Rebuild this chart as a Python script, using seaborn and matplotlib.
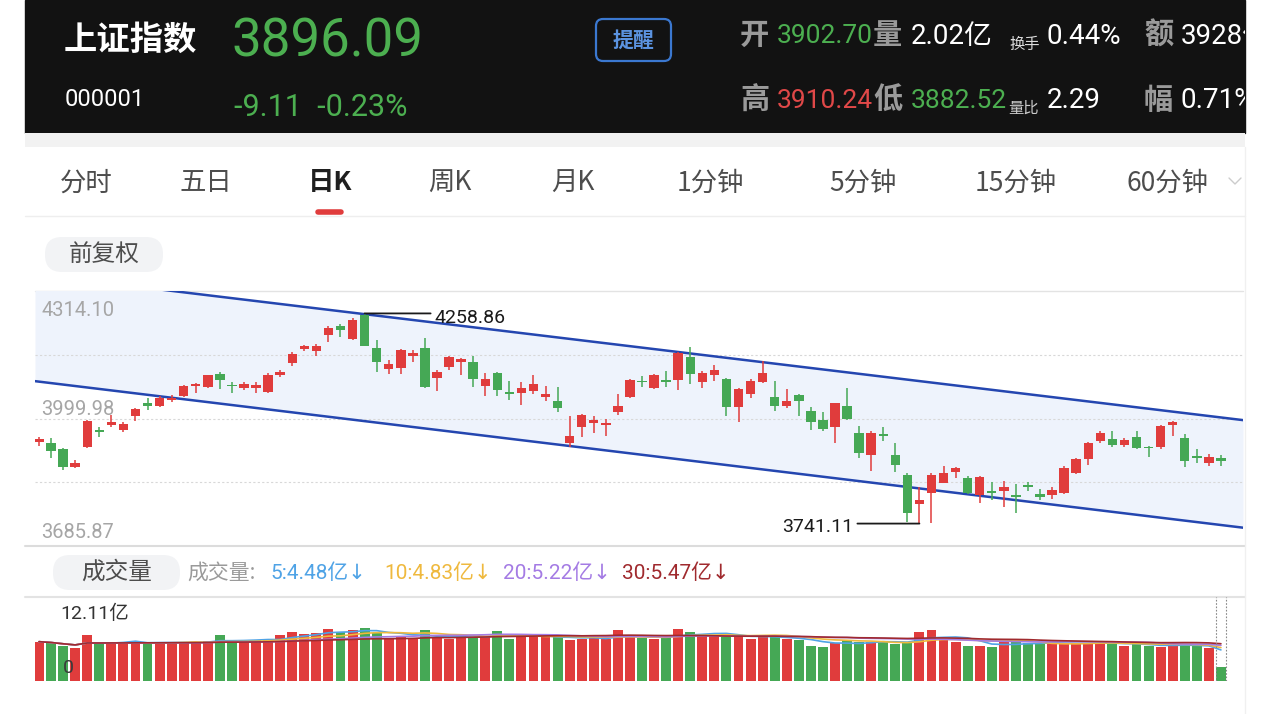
import numpy as np
import pandas as pd
import seaborn as sns
import matplotlib.pyplot as plt
from matplotlib.patches import Rectangle, FancyBboxPatch

# -------------------------
# Data (daily K, 上证指数)
# -------------------------
opens = [3941, 3939, 3926, 3881, 3931, 3971, 3984, 3972, 4007, 4037,
         4032, 4046, 4056, 4079, 4078, 4109, 4083, 4076, 4076, 4065,
         4106, 4136, 4170, 4166, 4206, 4228, 4195, 4255, 4173, 4121,
         4125, 4154, 4173, 4099, 4128, 4140, 4138, 4081, 4111, 4066,
         4062, 4068, 4053, 4043, 3939, 3980, 3988, 3984, 4015, 4054,
         4093, 4076, 4094, 4095, 4152, 4091, 4106, 4097, 4029, 4060,
         4091, 4052, 4032, 4058, 4019, 3996, 3980, 4031, 3965, 3910,
         3963, 3910, 3862, 3789, 3816, 3842, 3869, 3853, 3812, 3822,
         3822, 3812, 3836, 3814, 3812, 3816, 3865, 3899, 3945, 3949,
         3935, 3955, 3931, 3929, 3984, 3951, 3908, 3891, 3902.70]
closes = [3950, 3921, 3881, 3891, 3994, 3966, 3991, 3987, 4023, 4032,
          4051, 4051, 4080, 4084, 4106, 4095, 4079, 4084, 4083, 4107,
          4114, 4159, 4178, 4179, 4222, 4218, 4243, 4179, 4138, 4134,
          4168, 4161, 4078, 4114, 4152, 4147, 4097, 4097, 4070, 4060,
          4074, 4084, 4061, 4027, 3957, 4009, 3996, 3988, 4032, 4095,
          4089, 4107, 4089, 4161, 4109, 4111, 4120, 4029, 4073, 4093,
          4111, 4032, 4043, 4043, 3992, 3974, 4037, 3998, 3916, 3965,
          3957, 3885, 3766, 3798, 3861, 3865, 3877, 3816, 3857, 3816,
          3832, 3806, 3830, 3807, 3824, 3877, 3899, 3939, 3965, 3935,
          3947, 3927, 3927, 3982, 3991, 3896, 3902, 3904, 3896.09]
highs = [3955, 3951, 3928, 3898, 3996, 3980, 4009, 3991, 4027, 4050,
         4056, 4058, 4083, 4087, 4107, 4114, 4091, 4091, 4089, 4111,
         4119, 4165, 4181, 4183, 4229, 4232, 4247, 4258.86, 4193, 4144,
         4170, 4169, 4199, 4120, 4155, 4150, 4154, 4111, 4114, 4092,
         4089, 4107, 4081, 4078, 4007, 4011, 4007, 3998, 4060, 4097,
         4105, 4109, 4117, 4165, 4175, 4117, 4132, 4099, 4074, 4097,
         4142, 4092, 4073, 4060, 4028, 4015, 4039, 4074, 3982, 3968,
         3980, 3939, 3865, 3830, 3865, 3883, 3881, 3859, 3858, 3844,
         3847, 3839, 3844, 3826, 3832, 3883, 3902, 3943, 3968, 3968,
         3951, 3968, 3932, 3984, 3994, 3962, 3924, 3912, 3910.24]
lows = [3933, 3902, 3873, 3877, 3927, 3955, 3980, 3966, 3994, 4021,
        4029, 4040, 4053, 4062, 4076, 4073, 4062, 4070, 4064, 4062,
        4102, 4130, 4166, 4155, 4188, 4201, 4193, 4179, 4114, 4109,
        4109, 4140, 4074, 4068, 4120, 4106, 4078, 4056, 4056, 4046,
        4033, 4060, 4043, 4015, 3931, 3955, 3964, 3958, 4009, 4051,
        4078, 4073, 4078, 4070, 4085, 4076, 4093, 4007, 3992, 4051,
        4088, 4019, 4027, 4007, 3972, 3968, 3940, 3996, 3902, 3871,
        3945, 3869, 3746, 3741.11, 3743, 3840, 3853, 3813, 3793, 3799,
        3783, 3768, 3822, 3799, 3801, 3814, 3863, 3885, 3939, 3931,
        3929, 3924, 3904, 3924, 3957, 3880, 3890, 3883, 3882.52]
# volume in 亿
volumes = [5.67, 5.43, 5.00, 4.71, 6.60, 5.45, 5.55, 5.50, 5.60, 5.50,
           5.55, 5.60, 5.55, 5.60, 5.70, 6.60, 5.60, 5.70, 5.90, 6.10,
           6.60, 7.00, 6.80, 6.90, 7.50, 7.00, 7.30, 7.60, 6.90, 6.20,
           6.40, 6.20, 7.30, 6.20, 6.00, 6.60, 6.40, 6.40, 7.20, 6.10,
           6.40, 6.30, 6.60, 6.30, 5.90, 6.00, 6.40, 6.00, 7.40, 6.39,
           6.15, 6.06, 6.39, 7.45, 7.11, 6.63, 6.63, 6.49, 6.49, 6.01,
           6.49, 6.39, 6.01, 5.91, 5.10, 4.95, 5.43, 5.91, 5.67, 5.67,
           5.67, 5.34, 5.67, 7.11, 7.35, 6.01, 5.58, 5.05, 5.05, 4.95,
           5.67, 5.67, 5.53, 5.29, 5.43, 5.43, 5.53, 5.53, 5.53, 5.29,
           5.10, 5.34, 5.05, 4.95, 5.20, 5.30, 5.20, 4.70, 2.02]

# price axis labels shown on the chart (top, middle, bottom)
price_labels = [4314.10, 3999.98, 3685.87]
vol_top = 12.11

# hand-drawn channel (candle index, price)
chan_x = [-0.33, 99.83]
chan_upper = [4355, 3996]
chan_lower = [4092, 3731]

ma_windows = [5, 10, 20, 30]
ma_colors = ["#4fa3e6", "#efb93e", "#a47be4", "#a02a2e"]
ma_labels = ["5:4.48亿↓", "10:4.83亿↓", "20:5.22亿↓", "30:5.47亿↓"]

tabs = ["分时", "五日", "日K", "周K", "月K", "1分钟", "5分钟", "15分钟", "60分钟"]

RED = "#e03c3c"
GREEN = "#45a855"
W, H = 1280, 714

sns.set_theme(style="white")
plt.rcParams["font.family"] = ["Noto Sans CJK SC", "DejaVu Sans"]
NUM = ["Roboto", "Noto Sans CJK SC", "DejaVu Sans"]
ARROW = ["Roboto", "DejaVu Sans", "Noto Sans CJK SC"]

fig = plt.figure(figsize=(12.8, 7.14), dpi=100)
fig.patch.set_facecolor("white")

ui = fig.add_axes([0, 0, 1, 1])
ui.set_xlim(0, W)
ui.set_ylim(H, 0)
ui.axis("off")


def px_axes(x0, y0, x1, y1):
    a = fig.add_axes([x0 / W, 1 - y1 / H, (x1 - x0) / W, (y1 - y0) / H])
    a.set_facecolor("none")
    a.axis("off")
    return a


# -------------------------
# Header
# -------------------------
hdr = Rectangle((25, 0), 1220, 133, color="#121212", zorder=0)
ui.add_patch(hdr)
ui.add_patch(Rectangle((25, 133), 1220, 14, color="#f2f2f2", lw=0))


def htext(x, y, s, color, size, weight="normal", family=None, **kw):
    t = ui.text(x, y, s, color=color, fontsize=size, fontweight=weight,
                family=family or plt.rcParams["font.family"],
                va="center", ha="left", clip_on=True, **kw)
    t.set_clip_path(hdr)
    return t


htext(64, 40, "上证指数", "white", 24, "bold")
htext(232, 42, "3896.09", "#4caf50", 38, family=NUM)
htext(65, 100, "000001", "white", 17, family=NUM)
htext(234, 108, "-9.11  -0.23%", "#4caf50", 22, family=NUM)

ui.add_patch(FancyBboxPatch((596, 19), 75, 42, boxstyle="round,pad=0,rounding_size=7",
                            fc="none", ec="#3b78d0", lw=1.6))
ui.text(633, 40, "提醒", color="#5b93e0", fontsize=15, fontweight="bold",
        ha="center", va="center")

GREY = "#9a9a9a"
htext(740, 35, "开", GREY, 21, "bold")
htext(777, 36, "3902.70", "#4caf50", 19, family=NUM)
htext(873, 35, "量", GREY, 21, "bold")
htext(911, 36, "2.02亿", "white", 20, family=NUM)
htext(1009, 44, "换手", "#dddddd", 11)
htext(1047, 36, "0.44%", "white", 20, family=NUM)
htext(1144, 35, "额", GREY, 21, "bold")
htext(1181, 36, "3928亿", "white", 20, family=NUM)

htext(740, 100, "高", GREY, 21, "bold")
htext(777, 101, "3910.24", "#e04848", 19, family=NUM)
htext(873, 100, "低", GREY, 21, "bold")
htext(911, 101, "3882.52", "#4caf50", 19, family=NUM)
htext(1008, 108, "量比", "#cccccc", 11)
htext(1047, 101, "2.29", "white", 20, family=NUM)
htext(1144, 100, "幅", GREY, 21, "bold")
htext(1181, 101, "0.71%", "white", 20, family=NUM)

# -------------------------
# Tabs
# -------------------------
tab_x = [86, 206, 330, 450, 573, 710, 863, 1016, 1168]
for name, x in zip(tabs, tab_x):
    active = name == "日K"
    ui.text(x, 183, name, ha="center", va="center", fontsize=19,
            color="#1f1f1f" if active else "#4d4d4d",
            fontweight="bold" if active else "medium")
ui.plot([1229, 1235, 1241], [178, 184, 178], color="#cccccc", lw=1)
ui.plot([318, 341], [212, 212], color=RED, lw=4, solid_capstyle="round")
ui.plot([25, 1245], [216, 216], color="#eeeeee", lw=1)

ui.add_patch(FancyBboxPatch((45, 237), 118, 35, boxstyle="round,pad=0,rounding_size=17",
                            fc="#f2f3f5", ec="none"))
ui.text(104, 254, "前复权", ha="center", va="center", fontsize=17, color="#4d4d4d",
        fontweight="medium")

# frame lines
ui.plot([35, 1243], [291, 291], color="#e3e3e3", lw=1)
ui.plot([25, 1245], [546, 546], color="#dcdcdc", lw=1.5)
ui.plot([25, 1245], [597, 597], color="#e3e3e3", lw=1.5)
ui.plot([1245, 1245], [147, 714], color="#f0f0f0", lw=1)

# -------------------------
# Candles
# -------------------------
df = pd.DataFrame({"o": opens, "c": closes, "h": highs, "l": lows, "v": volumes})
df["i"] = np.arange(len(df))
colors = np.where(df["c"] >= df["o"], RED, GREEN)

price_top, price_mid, price_bottom = price_labels
ax = px_axes(35, 291, 1243, 546)
ax.set_xlim(chan_x[0], chan_x[1])
ax.set_ylim(price_bottom, price_top)

for v in np.linspace(price_bottom, price_top, 5)[1:-1]:
    ax.axhline(v, color="#d8d8d8", lw=0.8, ls=(0, (2, 2)), zorder=1)

ax.fill_between(chan_x, chan_lower, chan_upper, color="#eef3fc", lw=0, zorder=0)
ax.plot(chan_x, chan_upper, color="#2446b0", lw=1.8, zorder=2)
ax.plot(chan_x, chan_lower, color="#2446b0", lw=1.8, zorder=2)

ax.vlines(df["i"], df["l"], df["h"], colors=colors, lw=1.1, zorder=3)
body_lo = np.minimum(df["o"], df["c"])
body_h = np.maximum((df["c"] - df["o"]).abs(), 2.5)
ax.bar(df["i"], body_h, bottom=body_lo, width=0.78, color=colors, lw=0, zorder=4)

# axis value labels
for val, dy in zip(price_labels, [-19, 9, 13]):
    ax.annotate(f"{val:.2f}", xy=(0, val), xycoords=("axes fraction", "data"),
                xytext=(6, dy), textcoords="offset pixels", va="center", ha="left",
                fontsize=14.5, color="#a6a6a6", family=NUM, annotation_clip=False)

# max / min markers
hi = df["h"].idxmax()
lo = df["l"].idxmin()
for idx, val, dx, tdx, tdy, ha in [(hi, df["h"][hi], 66, 70, -5, "left"),
                                   (lo, df["l"][lo], -62, -66, -3, "right")]:
    ax.annotate("", xy=(idx, val), xytext=(dx, 0), textcoords="offset pixels",
                arrowprops=dict(arrowstyle="-", color="#1a1a1a", lw=1.3,
                                shrinkA=0, shrinkB=0), annotation_clip=False)
    ax.annotate(f"{val:.2f}", xy=(idx, val), xytext=(tdx, tdy), textcoords="offset pixels",
                ha=ha, va="center", fontsize=14, color="#1a1a1a", family=NUM,
                annotation_clip=False)

# -------------------------
# Volume
# -------------------------
ui.add_patch(FancyBboxPatch((53, 555), 127, 35, boxstyle="round,pad=0,rounding_size=17",
                            fc="#f2f3f5", ec="none"))
ui.text(117, 572, "成交量", ha="center", va="center", fontsize=17, color="#4d4d4d",
        fontweight="medium")
ui.text(187, 573, "成交量:", ha="left", va="center", fontsize=15, color="#9a9a9a")
for lab, col, x in zip(ma_labels, ma_colors, [270, 384, 503, 622]):
    ui.text(x, 573, lab, ha="left", va="center", fontsize=15, color=col, family=ARROW)

axv = px_axes(35, 597, 1243, 681)
axv.set_xlim(chan_x[0], chan_x[1])
axv.set_ylim(0, vol_top)
axv.bar(df["i"], df["v"], width=0.82, color=colors, lw=0, zorder=2)
for w, col in zip(ma_windows, ma_colors):
    ma = df["v"].rolling(w, min_periods=1).mean()
    sns.lineplot(x=df["i"], y=ma, ax=axv, color=col, lw=1.2, zorder=3)
axv.set_xlabel("")
axv.set_ylabel("")
axv.axis("off")
last = df["i"].iloc[-1]
axv.vlines([last - 0.45, last + 0.45], 0, vol_top, colors="#888888", lw=0.8,
           ls=(0, (1.5, 1.5)), zorder=4)

axv.annotate(f"{vol_top:.2f}亿", xy=(0, 1), xycoords="axes fraction", xytext=(25, -17),
             textcoords="offset pixels", ha="left", va="center", fontsize=14,
             color="#333333", family=NUM, annotation_clip=False, zorder=5)
axv.annotate("0", xy=(0, 0), xycoords="axes fraction", xytext=(28, 13),
             textcoords="offset pixels", ha="left", va="center", fontsize=14,
             color="#3a3a3a", family=NUM, annotation_clip=False, zorder=5)

fig.savefig("out.png", dpi=100, facecolor="white")
